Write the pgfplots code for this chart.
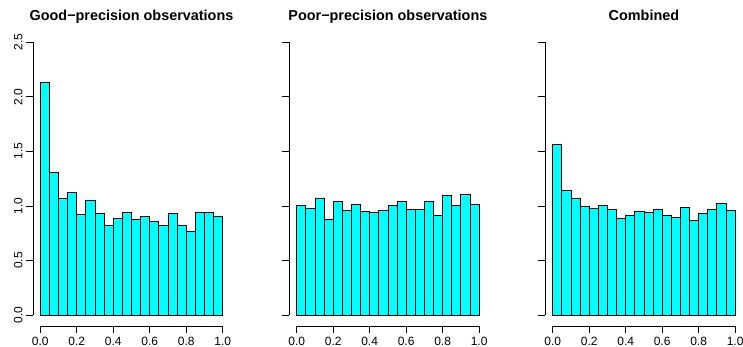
\documentclass[border=0pt]{standalone}
\usepackage{pgfplots}
\pgfplotsset{compat=1.18}
\usepackage{fontspec}
\setmainfont{Liberation Sans}
\definecolor{rcyan}{RGB}{0,255,255}
\pgfplotsset{
  rhist/.style={
    anchor=south west,
    width=197pt, height=295.1pt, scale only axis,
    xmin=-0.04, xmax=1.04, ymin=-0.1, ymax=2.6,
    axis lines*=left,
    axis line style={draw=none},
    clip=false,
    xtick={0,0.2,0.4,0.6,0.8,1},
    xticklabels={0.0,0.2,0.4,0.6,0.8,1.0},
    ytick={0,0.5,1,1.5,2,2.5},
    tick align=outside,
    major tick length=7pt,
    tick style={black, line width=0.8pt},
    tick label style={font=\fontsize{12}{14}\selectfont},
    yticklabel style={rotate=90, anchor=south},
    title style={at={(0.5,1)}, anchor=base, yshift=4.5pt, font=\fontsize{14.4}{16}\selectfont\bfseries},
  },
  rbar/.style={ybar interval, fill=rcyan, draw=black, line width=0.8pt},
}
\begin{document}
\begin{tikzpicture}
\useasboundingbox (0pt,0pt) rectangle (743pt,347pt);
% Panel 1
\begin{axis}[rhist, at={(33pt,20.8pt)},
  yticklabels={0.0,0.5,1.0,1.5,2.0,2.5},
  title={Good−precision observations}]
\addplot[rbar] coordinates {
(0.00,2.128) (0.05,1.305) (0.10,1.070) (0.15,1.122) (0.20,0.924)
(0.25,1.055) (0.30,0.930) (0.35,0.826) (0.40,0.884) (0.45,0.942)
(0.50,0.875) (0.55,0.902) (0.60,0.863) (0.65,0.823) (0.70,0.930)
(0.75,0.826) (0.80,0.771) (0.85,0.942) (0.90,0.939) (0.95,0.909)
(1.00,0.909)};
\draw[line width=0.8pt] (axis cs:0,-0.1) -- (axis cs:1,-0.1);
\draw[line width=0.8pt] (axis cs:-0.04,0) -- (axis cs:-0.04,2.5);
\end{axis}
% Panel 2
\begin{axis}[rhist, at={(289.4pt,20.8pt)},
  yticklabels={},
  title={Poor−precision observations}]
\addplot[rbar] coordinates {
(0.00,1.006) (0.05,0.982) (0.10,1.073) (0.15,0.875) (0.20,1.040)
(0.25,0.960) (0.30,1.012) (0.35,0.951) (0.40,0.945) (0.45,0.960)
(0.50,1.006) (0.55,1.040) (0.60,0.970) (0.65,0.966) (0.70,1.046)
(0.75,0.915) (0.80,1.095) (0.85,1.003) (0.90,1.104) (0.95,1.018)
(1.00,1.018)};
\draw[line width=0.8pt] (axis cs:0,-0.1) -- (axis cs:1,-0.1);
\draw[line width=0.8pt] (axis cs:-0.04,0) -- (axis cs:-0.04,2.5);
\end{axis}
% Panel 3
\begin{axis}[rhist, at={(545.4pt,20.8pt)},
  yticklabels={},
  title={Combined}]
\addplot[rbar] coordinates {
(0.00,1.564) (0.05,1.140) (0.10,1.070) (0.15,0.997) (0.20,0.979)
(0.25,1.009) (0.30,0.970) (0.35,0.887) (0.40,0.915) (0.45,0.951)
(0.50,0.939) (0.55,0.973) (0.60,0.918) (0.65,0.893) (0.70,0.988)
(0.75,0.869) (0.80,0.933) (0.85,0.973) (0.90,1.021) (0.95,0.963)
(1.00,0.963)};
\draw[line width=0.8pt] (axis cs:0,-0.1) -- (axis cs:1,-0.1);
\draw[line width=0.8pt] (axis cs:-0.04,0) -- (axis cs:-0.04,2.5);
\end{axis}
\end{tikzpicture}
\end{document}
